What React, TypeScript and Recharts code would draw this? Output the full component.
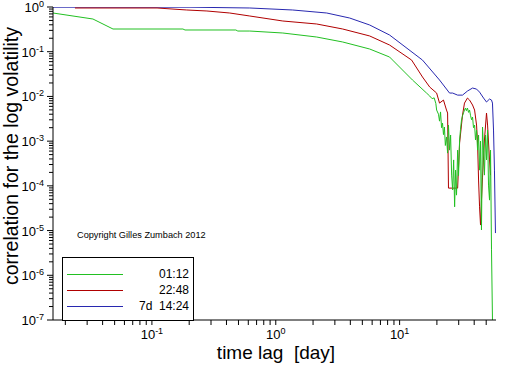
import { LineChart, Line, XAxis, YAxis } from 'recharts';

// time lag [day] and correlation values
const greenT = [0.0159, 0.0334, 0.0485, 0.178, 0.185, 0.476, 0.494, 0.617, 1.14, 2.14, 3.47, 5.73, 8.3, 8.78, 12.7, 16.5, 17.5, 18.3, 19.0, 19.6, 19.9, 20.6, 21.0, 21.4, 21.8, 22.2, 22.6, 23.0, 23.4, 23.9, 24.4, 24.8, 25.3, 25.8, 26.3, 26.8, 27.3, 27.8, 28.3, 28.8, 29.4, 29.9, 30.5, 31.0, 31.6, 32.2, 32.8, 33.4, 34.0, 34.6, 35.3, 36.0, 36.7, 37.4, 38.1, 38.8, 39.5, 40.3, 41.0, 41.8, 42.6, 43.4, 44.2, 45.0, 45.8, 46.7, 47.6, 48.4, 49.4, 50.3, 51.3, 52.2, 53.2, 54.2, 55.2, 56.2];
const greenV = [0.734, 0.539, 0.322, 0.322, 0.306, 0.306, 0.29, 0.29, 0.262, 0.213, 0.165, 0.115, 0.076, 0.065, 0.0233, 0.0119, 0.0102, 0.0089, 0.0093, 0.0070, 0.00496, 0.0040, 0.0028, 0.0045, 0.0020, 0.00254, 0.00140, 0.00207, 0.00080, 0.00124, 0.00054, 0.00229, 0.00063, 0.00137, 0.000174, 0.000081, 0.00038, 0.000034, 0.000225, 0.000062, 0.00063, 0.00017, 0.00106, 0.0018, 0.00297, 0.0037, 0.0043, 0.00496, 0.0055, 0.0048, 0.0055, 0.0044, 0.00496, 0.0037, 0.0030, 0.00346, 0.0020, 0.00229, 0.00106, 0.00177, 0.00063, 0.00137, 0.000225, 0.0010, 0.0000103, 0.00207, 0.00063, 0.000174, 0.00137, 0.00038, 0.00177, 0.000104, 0.000048, 0.00063, 0.0000037, 0.0000001];

const redT = [0.0239, 0.11, 0.191, 0.278, 0.425, 0.617, 1.14, 2.14, 3.47, 5.73, 8.3, 12.5, 15.3, 17.5, 19.9, 21.0, 22.6, 23.9, 24.4, 24.8, 29.4, 30.5, 32.2, 33.4, 35.3, 36.7, 38.8, 40.3, 41.8, 42.6, 43.4, 44.2, 45.0, 45.8, 46.7, 48.4, 50.3, 51.3, 53.2, 54.2];
const redV = [0.95, 0.95, 0.857, 0.814, 0.734, 0.629, 0.486, 0.417, 0.322, 0.225, 0.141, 0.065, 0.0272, 0.0162, 0.0119, 0.0071, 0.0083, 0.00496, 0.00425, 0.000089, 0.000089, 0.00091, 0.00384, 0.0071, 0.0092, 0.0083, 0.00643, 0.00496, 0.00229, 0.00091, 0.000135, 0.000034, 0.0000133, 0.000048, 0.000157, 0.00106, 0.00425, 0.00229, 0.00038, 0.000174];

const blueT = [0.0159, 0.203, 0.617, 1.37, 2.58, 3.95, 5.73, 8.3, 15.3, 21.0, 25.3, 26.8, 29.4, 32.2, 35.3, 38.8, 41.8, 44.2, 47.6, 50.3, 53.2, 55.2, 56.2, 57.3, 58.3, 59.4];
const blueV = [0.99, 0.99, 0.95, 0.857, 0.734, 0.567, 0.396, 0.236, 0.065, 0.0233, 0.0119, 0.0119, 0.0107, 0.0107, 0.0132, 0.0154, 0.0146, 0.0125, 0.0092, 0.0075, 0.00874, 0.0083, 0.0071, 0.00177, 0.000225, 0.0000088];

const xTicks = [0.02, 0.03, 0.04, 0.05, 0.06, 0.07, 0.08, 0.09, 0.1, 0.2, 0.3, 0.4, 0.5, 0.6, 0.7, 0.8, 0.9, 1, 2, 3, 4, 5, 6, 7, 8, 9, 10, 20, 30, 40, 50];
const yDecades = [-7, -6, -5, -4, -3, -2, -1, 0];
const minorSteps = [2, 3, 4, 5, 6, 7, 8, 9];

const yTicks: number[] = [];
yDecades.forEach((d) => {
  yTicks.push(Math.pow(10, d));
  if (d < 0) minorSteps.forEach((m) => yTicks.push(m * Math.pow(10, d)));
});

const toPoints = (t: number[], v: number[]) => t.map((x, i) => ({ t: x, v: v[i] }));

const FONT = '"Liberation Sans", Arial, sans-serif';

const isMajor = (val: number) => {
  const l = Math.log10(val);
  return Math.abs(l - Math.round(l)) < 1e-6;
};

const XTick = (props: any) => {
  const { x, y, payload } = props;
  const val = payload.value;
  const exp = Math.round(Math.log10(val));
  return (
    <g>
      <line x1={x} y1={y} x2={x} y2={y + 5} stroke="#000" />
      {isMajor(val) && (
        <text x={x} y={y + 19} textAnchor="middle" fontSize={13} fontFamily={FONT} fill="#000">
          10<tspan dy={-5} fontSize={9}>{exp}</tspan>
        </text>
      )}
    </g>
  );
};

const YTick = (props: any) => {
  const { x, y, payload } = props;
  const val = payload.value;
  const major = isMajor(val);
  const exp = Math.round(Math.log10(val));
  return (
    <g>
      <line x1={x} y1={y} x2={x - (major ? 6 : 4)} y2={y} stroke="#000" />
      {major && (
        <text x={x - 9} y={y + 5} textAnchor="end" fontSize={13} fontFamily={FONT} fill="#000">
          10<tspan dy={-5} fontSize={9}>{exp}</tspan>
        </text>
      )}
    </g>
  );
};

const legendRows = [
  { color: '#22c022', label: '01:12' },
  { color: '#b00000', label: '22:48' },
  { color: '#2828b0', label: '7d  14:24' },
];

const LegendBox = () => (
  <div
    style={{
      position: 'absolute',
      left: 62,
      top: 257,
      width: 130,
      height: 62,
      border: '1px solid #000',
      background: '#fff',
      fontFamily: FONT,
      fontSize: 12,
    }}
  >
    {legendRows.map((r, i) => (
      <div key={r.label} style={{ position: 'absolute', left: 0, top: 9 + i * 16, width: 130, height: 14 }}>
        <div style={{ position: 'absolute', left: 4, top: 7, width: 56, height: 1, background: r.color }} />
        <div style={{ position: 'absolute', right: 4, top: 0, whiteSpace: 'pre', lineHeight: '14px' }}>{r.label}</div>
      </div>
    ))}
  </div>
);

const App = () => {
  return (
    <div style={{ position: 'absolute', left: 0, top: 0, width: 512, height: 366, background: '#fff' }}>
      <LineChart width={512} height={366} margin={{ top: 7, right: 16, bottom: 0, left: 0 }}>
        <XAxis
          dataKey="t"
          type="number"
          scale="log"
          domain={[0.0159, 60]}
          allowDataOverflow
          ticks={xTicks}
          interval={0}
          tickSize={0}
          tickMargin={0}
          tickLine={false}
          tick={<XTick />}
          height={46}
          stroke="#000"
        />
        <YAxis
          dataKey="v"
          type="number"
          scale="log"
          domain={[1e-7, 1]}
          allowDataOverflow
          ticks={yTicks}
          interval={0}
          tickSize={0}
          tickMargin={0}
          tickLine={false}
          tick={<YTick />}
          width={53}
          stroke="#000"
        />
        <Line data={toPoints(blueT, blueV)} dataKey="v" stroke="#2828b0" strokeWidth={1} dot={false} isAnimationActive={false} />
        <Line data={toPoints(redT, redV)} dataKey="v" stroke="#b00000" strokeWidth={1} dot={false} isAnimationActive={false} />
        <Line data={toPoints(greenT, greenV)} dataKey="v" stroke="#22c022" strokeWidth={1} dot={false} isAnimationActive={false} />
      </LineChart>
      <LegendBox />
      <div style={{ position: 'absolute', left: 77, top: 230, fontFamily: FONT, fontSize: 9.2, whiteSpace: 'pre' }}>
        Copyright Gilles Zumbach 2012
      </div>
      <div
        style={{
          position: 'absolute',
          left: 126,
          top: 343,
          width: 300,
          textAlign: 'center',
          fontFamily: FONT,
          fontSize: 19,
          lineHeight: '19px',
          whiteSpace: 'pre',
        }}
      >
        time lag  [day]
      </div>
      <div
        style={{
          position: 'absolute',
          left: 11 - 160,
          top: 156 - 10,
          width: 320,
          textAlign: 'center',
          fontFamily: FONT,
          fontSize: 19.5,
          lineHeight: '20px',
          whiteSpace: 'pre',
          transform: 'rotate(-90deg)',
        }}
      >
        correlation for the log volatility
      </div>
    </div>
  );
};

export default App;
